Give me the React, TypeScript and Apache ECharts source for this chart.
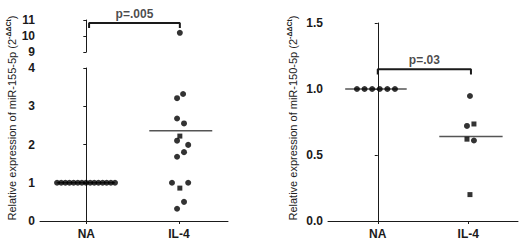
import React, { useEffect, useRef } from "react";
import * as echarts from "echarts";

// ---- data ----
const categories = ["NA", "IL-4"];

// miR-155-5p (left panel)
const mir155NaX = [-0.316, -0.271, -0.226, -0.182, -0.137, -0.092, -0.048, -0.003, 0.042, 0.086, 0.131, 0.176, 0.22, 0.265, 0.31];
const mir155NaY = [1, 1, 1, 1, 1, 1, 1, 1, 1, 1, 1, 1, 1, 1, 1];
const mir155Il4CircleX = [1.045, 0.98, 0.98, 1.055, 0.98, 1.1, 1.055, 0.98, 0.925, 1.1, 1.055, 0.98];
const mir155Il4CircleY = [3.32, 3.21, 2.68, 2.55, 2.1, 1.99, 1.8, 1.68, 1.0, 1.0, 0.5, 0.32];
const mir155Il4SquareX = [1.01, 1.01];
const mir155Il4SquareY = [2.22, 0.86];
const mir155OutlierX = [1.01];
const mir155OutlierY = [10.2];
const mir155Mean = [1.0, 2.36];
const mir155MeanSpan = [[-0.32, 0.31], [0.68, 1.36]];
const mir155P = "p=.005";
const mir155Bracket = { x0: 0.03, x1: 1.01, top: 10.81, foot: 10.5 };

// miR-150-5p (right panel)
const mir150NaX = [-0.23, -0.146, -0.062, 0.022, 0.106, 0.19];
const mir150NaY = [1, 1, 1, 1, 1, 1];
const mir150Il4CircleX = [1.019, 0.986, 1.063];
const mir150Il4CircleY = [0.947, 0.72, 0.61];
const mir150Il4SquareX = [1.063, 0.986, 1.019];
const mir150Il4SquareY = [0.735, 0.62, 0.2];
const mir150Mean = [1.0, 0.64];
const mir150MeanSpan = [[-0.36, 0.32], [0.68, 1.38]];
const mir150P = "p=.03";
const mir150Bracket = { x0: 0.0, x1: 1.03, top: 1.15, foot: 1.11 };

const ticks155Low = [0, 4, 1];
const ticks155High = [9, 11, 1];
const ticks150 = [0, 1.5, 0.5];

const FONT = "Liberation Sans, Arial, sans-serif";
const INK = "#1a1a1a";

const zip = (xs: number[], ys: number[]) => xs.map((x, i) => [x, ys[i]]);

export default function App() {
  const ref = useRef<HTMLDivElement>(null);
  useEffect(() => {
    if (!ref.current) return;
    const chart = echarts.init(ref.current, undefined, { renderer: "svg" });

    const xAxisBase = (gridIndex: number, min: number, max: number, show: boolean) => ({
      type: "value",
      gridIndex,
      min,
      max,
      show,
      splitLine: { show: false },
      axisLine: { show: true, onZero: false, lineStyle: { color: INK, width: 1 } },
      axisTick: { show: true, length: 3, customValues: [0, 1], lineStyle: { color: INK } },
      axisLabel: {
        customValues: [0, 1],
        formatter: (v: number) => categories[Math.round(v)] ?? "",
        color: INK,
        fontFamily: FONT,
        fontWeight: "bold",
        fontSize: 12,
        margin: 7,
      },
    });

    const yAxisBase = (gridIndex: number, t: number[], dec: number) => ({
      type: "value",
      gridIndex,
      min: t[0],
      max: t[1],
      interval: t[2],
      splitLine: { show: false },
      axisLine: { show: true, lineStyle: { color: INK, width: 1 } },
      axisTick: { show: true, length: 3, lineStyle: { color: INK } },
      axisLabel: {
        color: INK,
        fontFamily: FONT,
        fontWeight: "bold",
        fontSize: 12,
        margin: 5,
        formatter: (v: number) => v.toFixed(dec),
      },
    });

    const dots = (xi: number, xs: number[], ys: number[], symbol: string, size: number) => ({
      type: "scatter",
      xAxisIndex: xi,
      yAxisIndex: xi,
      symbol,
      symbolSize: size,
      itemStyle: { color: "#000" },
      data: zip(xs, ys),
      z: 3,
    });

    const meanLine = (xi: number, span: number[], y: number) => ({
      type: "line",
      xAxisIndex: xi,
      yAxisIndex: xi,
      symbol: "none",
      lineStyle: { color: "#555", width: 1.5 },
      data: [[span[0], y], [span[1], y]],
      z: 2,
    });

    const bracket = (xi: number, b: any) => ({
      type: "line",
      xAxisIndex: xi,
      yAxisIndex: xi,
      symbol: "none",
      lineStyle: { color: INK, width: 2 },
      data: [[b.x0, b.foot], [b.x0, b.top], [b.x1, b.top], [b.x1, b.foot]],
    });

    const pText = (xi: number, b: any, txt: string) => ({
      type: "scatter",
      xAxisIndex: xi,
      yAxisIndex: xi,
      symbolSize: 0,
      data: [[(b.x0 + b.x1) / 2, b.top]],
      label: {
        show: true,
        position: "top",
        distance: 3,
        formatter: txt,
        color: INK,
        fontFamily: FONT,
        fontWeight: "bold",
        fontSize: 12,
      },
    });

    const yLabel = (x: number, y: number, name: string) => ({
      type: "text",
      x,
      y,
      rotation: Math.PI / 2,
      style: {
        text: `{a|Relative expression of ${name} (2}{s|-ΔΔCt}{a|)}`,
        align: "center",
        verticalAlign: "middle",
        fill: "#222",
        rich: {
          a: { fontFamily: FONT, fontSize: 11, fill: "#222", lineHeight: 14 },
          s: { fontFamily: FONT, fontSize: 7, fontWeight: "bold", fill: "#222", verticalAlign: "top", lineHeight: 9 },
        },
      },
    });

    chart.setOption({
      animation: false,
      backgroundColor: "#fff",
      grid: [
        { left: 40, top: 20, width: 188, height: 32 },
        { left: 40, top: 68, width: 188, height: 153 },
        { left: 328, top: 23, width: 190, height: 198 },
      ],
      xAxis: [
        xAxisBase(0, -0.5, 1.53, false),
        xAxisBase(1, -0.5, 1.53, true),
        xAxisBase(2, -0.55, 1.55, true),
      ],
      yAxis: [yAxisBase(0, ticks155High, 0), yAxisBase(1, ticks155Low, 0), yAxisBase(2, ticks150, 1)],
      graphic: [yLabel(12, 118, "miR-155-5p"), yLabel(293, 118, "miR-150-5p")],
      series: [
        dots(0, mir155OutlierX, mir155OutlierY, "circle", 6),
        bracket(0, mir155Bracket),
        pText(0, mir155Bracket, mir155P),
        meanLine(1, mir155MeanSpan[0], mir155Mean[0]),
        meanLine(1, mir155MeanSpan[1], mir155Mean[1]),
        dots(1, mir155NaX, mir155NaY, "circle", 6),
        dots(1, mir155Il4CircleX, mir155Il4CircleY, "circle", 6),
        dots(1, mir155Il4SquareX, mir155Il4SquareY, "rect", 5),
        meanLine(2, mir150MeanSpan[0], mir150Mean[0]),
        meanLine(2, mir150MeanSpan[1], mir150Mean[1]),
        dots(2, mir150NaX, mir150NaY, "circle", 6),
        dots(2, mir150Il4CircleX, mir150Il4CircleY, "circle", 6),
        dots(2, mir150Il4SquareX, mir150Il4SquareY, "rect", 5),
        bracket(2, mir150Bracket),
        pText(2, mir150Bracket, mir150P),
      ],
    });
    return () => chart.dispose();
  }, []);
  return <div ref={ref} style={{ position: "fixed", left: 0, top: 0, width: 520, height: 240 }} />;
}
